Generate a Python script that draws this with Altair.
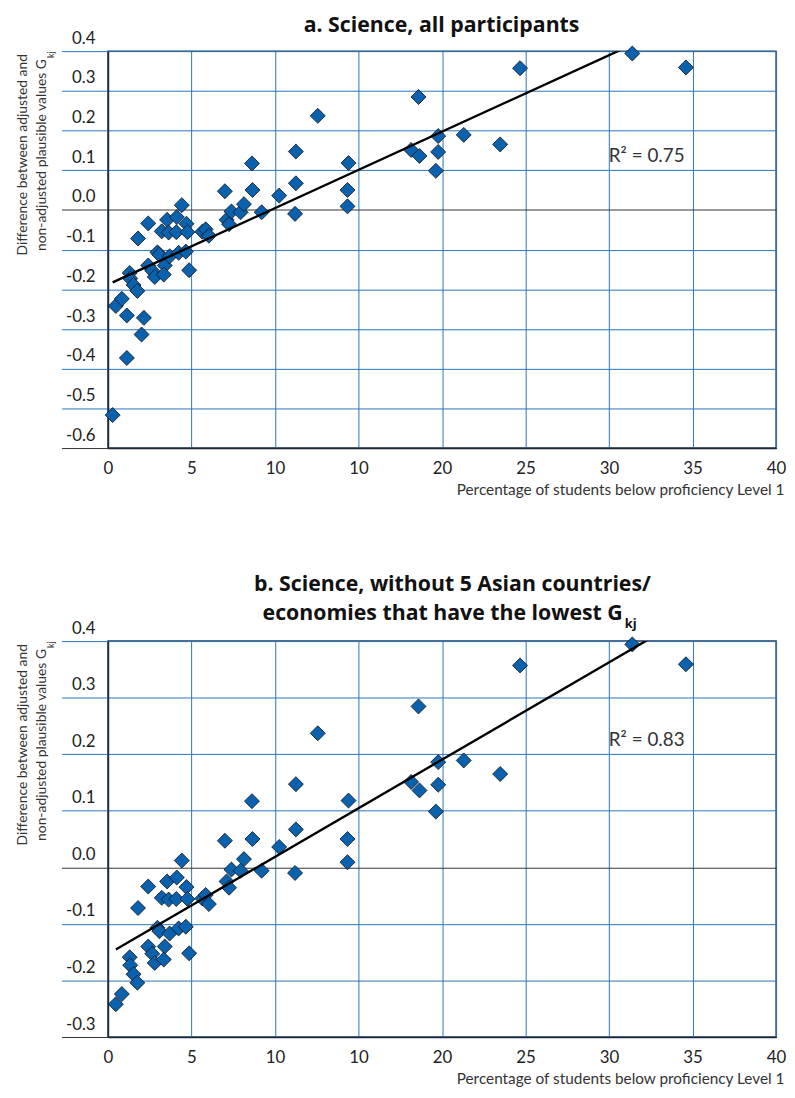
import altair as alt
import pandas as pd

# ---------------- data ----------------
# countries common to both panels (percentage below Level 1, G_kj)
x_common = [0.47, 0.83, 1.30, 1.33, 1.53, 1.76, 1.80, 2.41, 2.41, 2.65,
            2.80, 2.96, 3.08, 3.22, 3.40, 3.34, 3.54, 3.69, 3.63, 4.12,
            4.09, 4.23, 4.42, 4.70, 4.76, 4.66, 4.86, 5.65, 5.85, 6.04,
            7.00, 7.10, 7.25, 7.39, 7.94, 8.14, 8.62, 8.65, 9.20, 10.25,
            11.25, 11.25, 11.20, 12.56, 14.40, 14.34, 14.34, 18.15, 18.59, 18.65,
            19.63, 19.77, 19.77, 21.30, 23.48, 24.67, 31.39, 34.60]
y_common = [-0.242, -0.224, -0.159, -0.173, -0.189, -0.204, -0.072, -0.034, -0.140, -0.153,
            -0.169, -0.107, -0.113, -0.054, -0.140, -0.163, -0.025, -0.117, -0.057, -0.018,
            -0.056, -0.108, 0.012, -0.035, -0.056, -0.105, -0.152, -0.055, -0.049, -0.065,
            0.047, -0.025, -0.036, -0.004, -0.006, 0.0145, 0.117, 0.050, -0.006, 0.036,
            0.147, 0.067, -0.010, 0.237, 0.118, 0.050, 0.009, 0.151, 0.2845, 0.136,
            0.0985, 0.186, 0.146, 0.189, 0.165, 0.357, 0.394, 0.359]
# 5 Asian countries/economies with the lowest G_kj (panel a only)
x_asian = [0.28, 1.13, 2.01, 1.13, 2.15]
y_asian = [-0.517, -0.373, -0.314, -0.266, -0.272]

x_tick_values = [0, 5, 10, 15, 20, 25, 30, 35, 40]
x_tick_labels = ["0", "5", "10", "10", "20", "25", "30", "35", "40"]
y_ticks_a = [-0.6, -0.5, -0.4, -0.3, -0.2, -0.1, 0.0, 0.1, 0.2, 0.3, 0.4]
y_labels_a = ["-0.6", "-0.5", "-0.4", "-0.3", "-0.2", "-0.1", "0.0", "0.1", "0.2", "0.3", "0.4"]
y_ticks_b = [-0.3, -0.2, -0.1, 0.0, 0.1, 0.2, 0.3, 0.4]
y_labels_b = ["-0.3", "-0.2", "-0.1", "0.0", "0.1", "0.2", "0.3", "0.4"]

r2_a = "R\u00b2 = 0.75"
r2_b = "R\u00b2 = 0.83"
title_a = "a. Science, all participants"
title_b1 = "b. Science, without 5 Asian countries/"
title_b2 = "economies that have the lowest G"
sub_kj = "kj"
ytitle_1 = "Difference between adjusted and"
ytitle_2 = "non-adjusted plausible values G"
xtitle = "Percentage of students below proficiency Level 1"

df_b = pd.DataFrame({"x": x_common, "y": y_common})
df_a = pd.concat([df_b, pd.DataFrame({"x": x_asian, "y": y_asian})], ignore_index=True)

FONT = "Lato"
TFONT = "Open Sans"
GRID = "#2b74bb"
DARK = "#333333"
W = 675

x_label_expr = "[" + ",".join(f"'{s}'" for s in x_tick_labels) + "][round(datum.value / 5)]"


def one(text):
    return alt.Chart(pd.DataFrame({"t": [text]}))


def panel(df, y_ticks, y_labels, ymin, height, r2_text, r2_y, titles):
    y_label_expr = ("[" + ",".join(f"'{s}'" for s in y_labels) +
                    f"][round((datum.value - ({ymin})) * 10)]")
    cond_col = {"condition": {"test": f"datum.value === 0 || datum.value === {ymin}",
                              "value": DARK}, "value": GRID}
    x_enc = alt.X("x:Q", scale=alt.Scale(domain=[0, 40], nice=False, zero=False),
                  axis=alt.Axis(values=x_tick_values, labelExpr=x_label_expr, grid=True,
                                gridColor=GRID, gridWidth=1, ticks=False,
                                domainColor="#1c2b3f", domainWidth=1.5,
                                labelPadding=21, labelBaseline="middle", labelFontSize=17,
                                labelFont=FONT, labelColor="#222", labelFlush=False,
                                labelOverlap=False, title=xtitle, titleFont=FONT,
                                titleFontSize=15.5, titleFontWeight="normal", titleColor=DARK,
                                titleX=W + 8, titleY=42, titleAlign="right",
                                titleBaseline="middle"))
    y_enc = alt.Y("y:Q", scale=alt.Scale(domain=[ymin, 0.4], nice=False, zero=False),
                  axis=alt.Axis(values=y_ticks, labelExpr=y_label_expr, grid=True,
                                gridColor=cond_col, gridWidth=1, ticks=True, tickSize=47,
                                tickColor=cond_col, tickWidth=1,
                                domainColor="#1c2b3f", domainWidth=1.5,
                                labelPadding=-34, labelAlign="right",
                                labelBaseline="alphabetic", labelOffset=-8,
                                labelFontSize=17, labelFont=FONT, labelColor="#222",
                                labelOverlap=False, labelFlush=False, title=None))
    base = alt.Chart(df).encode(x=x_enc, y=y_enc)
    pts = base.mark_point(shape="diamond", filled=True, color="#0a62ae", stroke="#111111",
                          strokeWidth=0.8, size=230, opacity=1)
    reg = base.transform_regression("x", "y").mark_line(color="black", strokeWidth=2.4,
                                                        clip=True)
    r2t = one(r2_text).mark_text(align="left", baseline="middle", font=FONT, fontSize=19,
                                 color=DARK).encode(x=alt.value(506), y=alt.value(r2_y),
                                                    text="t:N")
    yt1 = one(ytitle_1).mark_text(angle=270, align="right", baseline="middle", font=FONT,
                                  fontSize=14, color=DARK).encode(
        x=alt.value(-86), y=alt.value(3), text="t:N")
    yt2 = one(ytitle_2).mark_text(angle=270, align="right", baseline="middle", font=FONT,
                                  fontSize=14, color=DARK).encode(
        x=alt.value(-67), y=alt.value(8), text="t:N")
    yt3 = one(sub_kj).mark_text(angle=270, align="left", baseline="middle", font=FONT,
                                fontSize=9, color=DARK).encode(
        x=alt.value(-58), y=alt.value(7), text="t:N")
    return alt.layer(pts, reg, r2t, yt1, yt2, yt3, *titles).properties(width=W, height=height)


ta = one(title_a).mark_text(align="center", baseline="middle", font=TFONT, fontSize=21.5,
                            fontWeight="bold", color="#111").encode(
    x=alt.value(337), y=alt.value(-25), text="t:N")
tb1 = one(title_b1).mark_text(align="center", baseline="middle", font=TFONT, fontSize=21.5,
                              fontWeight="bold", color="#111").encode(
    x=alt.value(348), y=alt.value(-57), text="t:N")
tb2 = one(title_b2).mark_text(align="right", baseline="middle", font=TFONT, fontSize=21.5,
                              fontWeight="bold", color="#111").encode(
    x=alt.value(520), y=alt.value(-27), text="t:N")
tb3 = one(sub_kj).mark_text(align="left", baseline="middle", font=TFONT, fontSize=13,
                            fontWeight="bold", color="#111").encode(
    x=alt.value(522), y=alt.value(-17), text="t:N")

chart_a = panel(df_a, y_ticks_a, y_labels_a, -0.6, 401, r2_a, 106, [ta])
chart_b = panel(df_b, y_ticks_b, y_labels_b, -0.3, 400, r2_b, 100, [tb1, tb2, tb3])

chart = alt.vconcat(chart_a, chart_b, spacing=74).properties(
    padding={"left": 7, "top": 1, "right": 0, "bottom": 0}
).configure_view(stroke="#2b3a4d", strokeWidth=1.5)

chart.save("out.html", embed_options={"renderer": "svg", "actions": False})
